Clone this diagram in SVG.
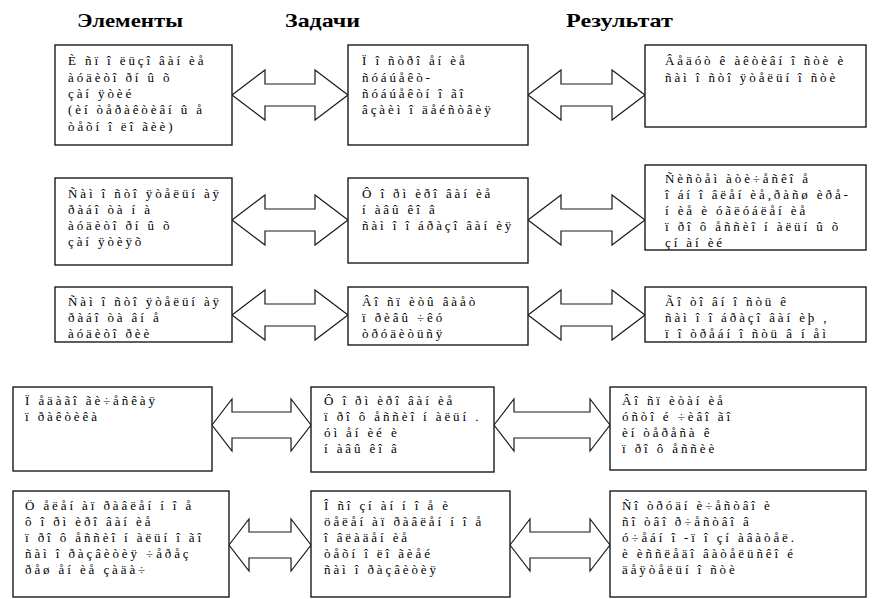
<svg xmlns="http://www.w3.org/2000/svg" width="879" height="599" viewBox="0 0 879 599">
<style>
.h{font-family:'Liberation Serif','Times New Roman',serif;font-weight:bold;font-size:19px;fill:#000}
.t{font-family:'Liberation Serif','Times New Roman',serif;font-size:13px;letter-spacing:2.9px;fill:#000}
.b{fill:#fff;stroke:#1a1a1a;stroke-width:1.4}
.a{fill:#fff;stroke:#1a1a1a;stroke-width:1.2}
</style>
<rect width="879" height="599" fill="#fff"/>
<g id="headers">
<text class="h" x="77" y="27" textLength="106" lengthAdjust="spacingAndGlyphs">Элементы</text>
<text class="h" x="285" y="27" textLength="75" lengthAdjust="spacingAndGlyphs">Задачи</text>
<text class="h" x="566" y="27" textLength="107" lengthAdjust="spacingAndGlyphs">Результат</text>
</g>
<g id="connectors">
<path class="a" d="M232,95 L265,70 L265,84 L315,84 L315,70 L348,95 L315,120 L315,106 L265,106 L265,120 Z"/>
<path class="a" d="M528,95 L561,70 L561,84 L612,84 L612,70 L645,95 L612,120 L612,106 L561,106 L561,120 Z"/>
<path class="a" d="M232,220 L265,195 L265,209 L315,209 L315,195 L348,220 L315,245 L315,231 L265,231 L265,245 Z"/>
<path class="a" d="M528,220 L561,195 L561,209 L612,209 L612,195 L645,220 L612,245 L612,231 L561,231 L561,245 Z"/>
<path class="a" d="M232,315 L265,290 L265,304 L315,304 L315,290 L348,315 L315,340 L315,326 L265,326 L265,340 Z"/>
<path class="a" d="M528,315 L561,290 L561,304 L612,304 L612,290 L645,315 L612,340 L612,326 L561,326 L561,340 Z"/>
<path class="a" d="M212,425 L232,399 L232,412 L291,412 L291,399 L311,425 L291,451 L291,438 L232,438 L232,451 Z"/>
<path class="a" d="M494,425 L514,399 L514,412 L590,412 L590,399 L610,425 L590,451 L590,438 L514,438 L514,451 Z"/>
<path class="a" d="M229,545 L249,519 L249,532 L291,532 L291,519 L311,545 L291,571 L291,558 L249,558 L249,571 Z"/>
<path class="a" d="M510,545 L530,519 L530,532 L590,532 L590,519 L610,545 L590,571 L590,558 L530,558 L530,571 Z"/>
</g>
<g id="a1"><rect class="b" x="55" y="45" width="177" height="100"/>
<text class="t" x="68" y="65">È ñï î ëüçî âàí èå</text>
<text class="t" x="68" y="82">àóäèòî ðí û õ</text>
<text class="t" x="68" y="98">çàí ÿòèé</text>
<text class="t" x="68" y="114">(èí òåðàêòèâí û å</text>
<text class="t" x="68" y="131">òåõí î ëî ãèè)</text></g>
<g id="b1"><rect class="b" x="348" y="45" width="180" height="100"/>
<text class="t" x="362" y="65">Ï î ñòðî åí èå</text>
<text class="t" x="362" y="82">ñóáúåêò-</text>
<text class="t" x="362" y="98">ñóáúåêòí î ãî</text>
<text class="t" x="362" y="114">âçàèì î äåéñòâèÿ</text></g>
<g id="c1"><rect class="b" x="645" y="45" width="221" height="82"/>
<text class="t" x="665" y="65">Âåäóò ê àêòèâí î ñòè è</text>
<text class="t" x="665" y="82">ñàì î ñòî ÿòåëüí î ñòè</text></g>
<g id="a2"><rect class="b" x="55" y="178" width="177" height="87"/>
<text class="t" x="68" y="198">Ñàì î ñòî ÿòåëüí àÿ</text>
<text class="t" x="68" y="214">ðàáî òà í à</text>
<text class="t" x="68" y="230">àóäèòî ðí û õ</text>
<text class="t" x="68" y="246">çàí ÿòèÿõ</text></g>
<g id="b2"><rect class="b" x="348" y="178" width="180" height="85"/>
<text class="t" x="362" y="198">Ô î ðì èðî âàí èå</text>
<text class="t" x="362" y="214">í àâû êî â</text>
<text class="t" x="362" y="230">ñàì î î áðàçî âàí èÿ</text></g>
<g id="c2"><rect class="b" x="645" y="165" width="221" height="85"/>
<text class="t" x="665" y="183">Ñèñòåì àòè÷åñêî å</text>
<text class="t" x="665" y="199">î áí î âëåí èå,ðàñø èðå-</text>
<text class="t" x="665" y="215">í èå è óãëóáëåí èå</text>
<text class="t" x="665" y="231">ï ðî ô åññèî í àëüí û õ</text>
<text class="t" x="665" y="247">çí àí èé</text></g>
<g id="a3"><rect class="b" x="55" y="287" width="177" height="55"/>
<text class="t" x="68" y="306">Ñàì î ñòî ÿòåëüí àÿ</text>
<text class="t" x="68" y="322">ðàáî òà âí å</text>
<text class="t" x="68" y="338">àóäèòî ðèè</text></g>
<g id="b3"><rect class="b" x="348" y="287" width="180" height="58"/>
<text class="t" x="362" y="306">Âî ñï èòû âàåò</text>
<text class="t" x="362" y="322">ï ðèâû ÷êó</text>
<text class="t" x="362" y="338">òðóäèòüñÿ</text></g>
<g id="c3"><rect class="b" x="645" y="287" width="221" height="55"/>
<text class="t" x="665" y="306">Ãî òî âí î ñòü ê</text>
<text class="t" x="665" y="322">ñàì î î áðàçî âàí èþ ,</text>
<text class="t" x="665" y="338">ï î òðåáí î ñòü â í åì</text></g>
<g id="a4"><rect class="b" x="13" y="387" width="199" height="84"/>
<text class="t" x="25" y="405"> Ï åäàãî ãè÷åñêàÿ</text>
<text class="t" x="25" y="421">ï ðàêòèêà</text></g>
<g id="b4"><rect class="b" x="311" y="387" width="183" height="85"/>
<text class="t" x="324" y="405">Ô î ðì èðî âàí èå</text>
<text class="t" x="324" y="421">ï ðî ô åññèî í àëüí .</text>
<text class="t" x="324" y="437">óì åí èé è</text>
<text class="t" x="324" y="453">í àâû êî â</text></g>
<g id="c4"><rect class="b" x="610" y="387" width="256" height="83"/>
<text class="t" x="622" y="405">Âî ñï èòàí èå</text>
<text class="t" x="622" y="421">óñòî é ÷èâî ãî</text>
<text class="t" x="622" y="437">èí òåðåñà ê</text>
<text class="t" x="622" y="453">ï ðî ô åññèè</text></g>
<g id="a5"><rect class="b" x="13" y="491" width="216" height="106"/>
<text class="t" x="25" y="510">Ö åëåí àï ðàâëåí í î å</text>
<text class="t" x="25" y="526">ô î ðì èðî âàí èå</text>
<text class="t" x="25" y="542">ï ðî ô åññèî í àëüí î ãî</text>
<text class="t" x="25" y="558">ñàì î ðàçâèòèÿ ÷åðåç</text>
<text class="t" x="25" y="574">ðåø åí èå çàäà÷</text></g>
<g id="b5"><rect class="b" x="311" y="491" width="199" height="106"/>
<text class="t" x="324" y="510">Î ñî çí àí í î å è</text>
<text class="t" x="324" y="526">öåëåí àï ðàâëåí í î å</text>
<text class="t" x="324" y="542">î âëàäåí èå</text>
<text class="t" x="324" y="558">òåõí î ëî ãèåé</text>
<text class="t" x="324" y="574">ñàì î ðàçâèòèÿ</text></g>
<g id="c5"><rect class="b" x="610" y="491" width="256" height="106"/>
<text class="t" x="622" y="510">Ñî òðóäí è÷åñòâî  è</text>
<text class="t" x="622" y="526">ñî òâî ð÷åñòâî  â</text>
<text class="t" x="622" y="542">ó÷åáí î -ï î çí àâàòåë.</text>
<text class="t" x="622" y="558">è èññëåäî âàòåëüñêî é</text>
<text class="t" x="622" y="574">äåÿòåëüí î ñòè</text></g>
</svg>
